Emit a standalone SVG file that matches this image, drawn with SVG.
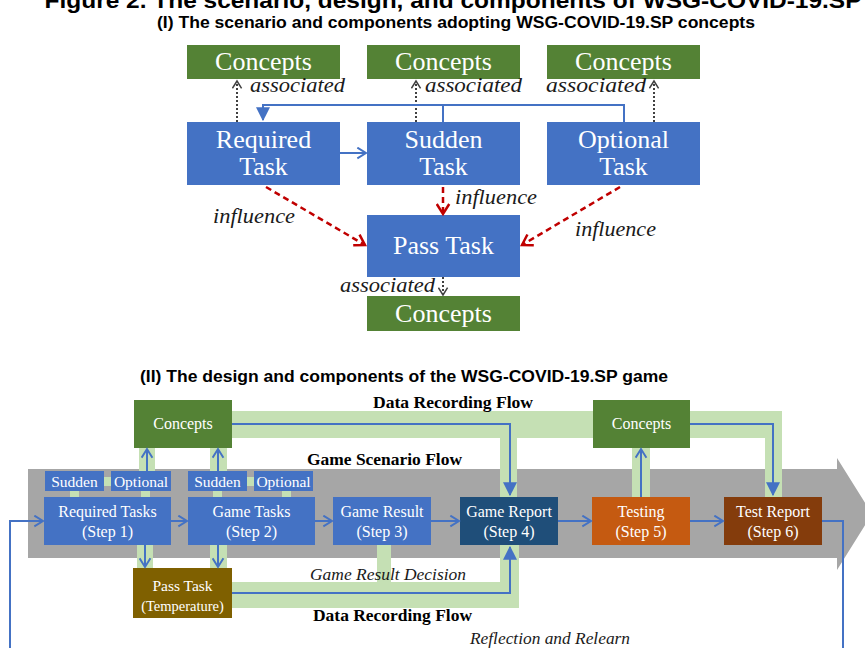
<svg xmlns="http://www.w3.org/2000/svg" width="865" height="648" viewBox="0 0 865 648">
<style>
.title{font-family:"Liberation Sans",Arial,sans-serif;font-weight:bold;fill:#000}
.lbl{font-family:"Liberation Serif","Times New Roman",serif;fill:#fff;text-anchor:middle}
.it{font-family:"Liberation Serif","Times New Roman",serif;font-style:italic;fill:#1a1a1a}
.bd{font-family:"Liberation Serif","Times New Roman",serif;font-weight:bold;fill:#000}
.green{fill:#548235}
.blue{fill:#4472C4}
.band{fill:#C5E0B4}
.assoc{stroke:#404040;stroke-width:2;stroke-dasharray:2 2;fill:none}
.infl{stroke:#C00000;stroke-width:2.5;stroke-dasharray:6 4;fill:none}
.bl{stroke:#4472C4;stroke-width:2;fill:none}
</style>
<defs>
<marker id="chevDark" viewBox="0 0 12 12" refX="10" refY="6" markerWidth="11" markerHeight="11" markerUnits="userSpaceOnUse" orient="auto"><path d="M2,1 L10,6 L2,11" fill="none" stroke="#404040" stroke-width="1.6"/></marker>
<marker id="chevRed" viewBox="0 0 12 12" refX="10" refY="6" markerWidth="15" markerHeight="15" markerUnits="userSpaceOnUse" orient="auto"><path d="M2,1 L10,6 L2,11" fill="none" stroke="#C00000" stroke-width="2"/></marker>
<marker id="chevBlue" viewBox="0 0 12 12" refX="10" refY="6" markerWidth="13" markerHeight="13" markerUnits="userSpaceOnUse" orient="auto"><path d="M2,1 L10,6 L2,11" fill="none" stroke="#4472C4" stroke-width="1.8"/></marker>
<marker id="triBlue" viewBox="0 0 12 12" refX="11" refY="6" markerWidth="14" markerHeight="14" markerUnits="userSpaceOnUse" orient="auto"><path d="M0,0 L12,6 L0,12 Z" fill="#4472C4"/></marker>
</defs>
<rect width="865" height="648" fill="#fff"/>
<text class="title" x="453" y="8" font-size="22" text-anchor="middle" textLength="817" lengthAdjust="spacingAndGlyphs">Figure 2. The scenario, design, and components of WSG-COVID-19.SP</text>
<text class="title" x="456" y="28" font-size="16" text-anchor="middle" textLength="598" lengthAdjust="spacingAndGlyphs">(I) The scenario and components adopting WSG-COVID-19.SP concepts</text>

<!-- Part I nodes -->
<g id="concepts1"><rect class="green" x="187" y="45" width="153" height="34"/><text class="lbl" x="263.5" y="70" font-size="26">Concepts</text></g>
<g id="concepts2"><rect class="green" x="367" y="45" width="153" height="34"/><text class="lbl" x="443.5" y="70" font-size="26">Concepts</text></g>
<g id="concepts3"><rect class="green" x="547" y="45" width="153" height="34"/><text class="lbl" x="623.5" y="70" font-size="26">Concepts</text></g>
<g id="requiredTask"><rect class="blue" x="187" y="122" width="153" height="63"/><text class="lbl" x="263.5" y="148" font-size="26">Required</text><text class="lbl" x="263.5" y="175" font-size="26">Task</text></g>
<g id="suddenTask"><rect class="blue" x="367" y="122" width="153" height="63"/><text class="lbl" x="443.5" y="148" font-size="26">Sudden</text><text class="lbl" x="443.5" y="175" font-size="26">Task</text></g>
<g id="optionalTask"><rect class="blue" x="547" y="122" width="153" height="63"/><text class="lbl" x="623.5" y="148" font-size="26">Optional</text><text class="lbl" x="623.5" y="175" font-size="26">Task</text></g>
<g id="passTask"><rect class="blue" x="367" y="215" width="153" height="62"/><text class="lbl" x="443.5" y="254" font-size="26">Pass Task</text></g>
<g id="concepts4"><rect class="green" x="367" y="296" width="153" height="35"/><text class="lbl" x="443.5" y="322" font-size="26">Concepts</text></g>

<g id="connectors1">
<line class="assoc" x1="237" y1="122" x2="237" y2="81" marker-end="url(#chevDark)"/>
<line class="assoc" x1="416" y1="122" x2="416" y2="81" marker-end="url(#chevDark)"/>
<line class="assoc" x1="654" y1="122" x2="654" y2="81" marker-end="url(#chevDark)"/>
<line class="assoc" x1="443" y1="277" x2="443" y2="295" marker-end="url(#chevDark)"/>
<text class="it" x="250" y="92" font-size="20" textLength="95" lengthAdjust="spacingAndGlyphs">associated</text>
<text class="it" x="425" y="92" font-size="20" textLength="97" lengthAdjust="spacingAndGlyphs">associated</text>
<text class="it" x="546" y="92" font-size="20" textLength="100" lengthAdjust="spacingAndGlyphs">associated</text>
<text class="it" x="340" y="292" font-size="20" textLength="95" lengthAdjust="spacingAndGlyphs">associated</text>
<polyline class="bl" stroke-width="2.5" points="443,122 443,105"/>
<polyline class="bl" stroke-width="2.5" points="624,122 624,105 263,105 263,120" marker-end="url(#triBlue)"/>
<line class="bl" stroke-width="2.5" x1="340" y1="153" x2="366" y2="153" marker-end="url(#chevBlue)"/>
<line class="infl" x1="266" y1="187" x2="365" y2="245" marker-end="url(#chevRed)"/>
<line class="infl" x1="443" y1="187" x2="443" y2="214" marker-end="url(#chevRed)"/>
<line class="infl" x1="620" y1="187" x2="522" y2="245" marker-end="url(#chevRed)"/>
<text class="it" x="213" y="223" font-size="20" textLength="82" lengthAdjust="spacingAndGlyphs">influence</text>
<text class="it" x="455" y="204" font-size="20" textLength="82" lengthAdjust="spacingAndGlyphs">influence</text>
<text class="it" x="575" y="236" font-size="20" textLength="81" lengthAdjust="spacingAndGlyphs">influence</text>
</g>

<!-- Part II -->
<text class="title" x="404" y="382" font-size="16" text-anchor="middle" textLength="528" lengthAdjust="spacingAndGlyphs">(II) The design and components of the WSG-COVID-19.SP game</text>

<!-- grey scenario arrow -->
<polygon points="28,469 837,469 837,458 872,514 837,570 837,558 28,558" fill="#A6A6A6"/>
<text class="bd" x="307" y="465" font-size="16" textLength="155" lengthAdjust="spacingAndGlyphs">Game Scenario Flow</text>

<!-- light green flow bands -->
<g id="bands">
<rect class="band" x="232" y="411" width="550" height="27"/>
<rect class="band" x="500" y="411" width="17" height="86"/>
<rect class="band" x="765" y="411" width="17" height="86"/>
<rect class="band" x="632" y="448" width="18" height="49"/>
<rect class="band" x="139" y="448" width="16" height="23"/>
<rect class="band" x="210" y="448" width="17" height="23"/>
<rect class="band" x="70" y="491" width="9" height="6"/>
<rect class="band" x="141" y="491" width="9" height="6"/>
<rect class="band" x="213" y="491" width="9" height="6"/>
<rect class="band" x="282" y="491" width="9" height="6"/>
<rect class="band" x="104" y="477" width="7" height="9"/>
<rect class="band" x="247" y="477" width="7" height="9"/>
<rect class="band" x="137" y="545" width="16" height="23"/>
<rect class="band" x="210" y="545" width="17" height="23"/>
<rect class="band" x="377" y="545" width="14" height="37"/>
<rect class="band" x="232" y="582" width="287" height="26"/>
<rect class="band" x="500" y="545" width="19" height="63"/>
</g>
<text class="bd" x="373" y="408" font-size="16" textLength="160" lengthAdjust="spacingAndGlyphs">Data Recording Flow</text>
<text class="bd" x="313" y="621" font-size="16" textLength="159" lengthAdjust="spacingAndGlyphs">Data Recording Flow</text>
<text class="it" x="310" y="580" font-size="16" textLength="156" lengthAdjust="spacingAndGlyphs">Game Result Decision</text>
<text class="it" x="470" y="644" font-size="16" textLength="160" lengthAdjust="spacingAndGlyphs">Reflection and Relearn</text>

<g id="conceptsL"><rect class="green" x="134" y="400" width="98" height="48"/><text class="lbl" x="183" y="429" font-size="16">Concepts</text></g>
<g id="conceptsR"><rect class="green" x="593" y="400" width="97" height="48"/><text class="lbl" x="641.5" y="429" font-size="16">Concepts</text></g>
<g id="sudden1"><rect class="blue" x="45" y="471" width="59" height="20"/><text class="lbl" x="74.5" y="487" font-size="15.5">Sudden</text></g>
<g id="optional1"><rect class="blue" x="111" y="471" width="60" height="20"/><text class="lbl" x="141" y="487" font-size="15.5">Optional</text></g>
<g id="sudden2"><rect class="blue" x="188" y="471" width="59" height="20"/><text class="lbl" x="217.5" y="487" font-size="15.5">Sudden</text></g>
<g id="optional2"><rect class="blue" x="254" y="471" width="59" height="20"/><text class="lbl" x="283.5" y="487" font-size="15.5">Optional</text></g>
<g id="step1"><rect class="blue" x="44" y="497" width="127" height="48"/><text class="lbl" x="107.5" y="517" font-size="16">Required Tasks</text><text class="lbl" x="107.5" y="537" font-size="16">(Step 1)</text></g>
<g id="step2"><rect class="blue" x="188" y="497" width="127" height="48"/><text class="lbl" x="251.5" y="517" font-size="16">Game Tasks</text><text class="lbl" x="251.5" y="537" font-size="16">(Step 2)</text></g>
<g id="step3"><rect class="blue" x="333" y="497" width="98" height="48"/><text class="lbl" x="382" y="517" font-size="16">Game Result</text><text class="lbl" x="382" y="537" font-size="16">(Step 3)</text></g>
<g id="step4"><rect fill="#1F4E79" x="460" y="497" width="98" height="48"/><text class="lbl" x="509" y="517" font-size="16">Game Report</text><text class="lbl" x="509" y="537" font-size="16">(Step 4)</text></g>
<g id="step5"><rect fill="#C55A11" x="592" y="497" width="98" height="48"/><text class="lbl" x="641" y="517" font-size="16">Testing</text><text class="lbl" x="641" y="537" font-size="16">(Step 5)</text></g>
<g id="step6"><rect fill="#843C0C" x="724" y="497" width="98" height="48"/><text class="lbl" x="773" y="517" font-size="16">Test Report</text><text class="lbl" x="773" y="537" font-size="16">(Step 6)</text></g>
<g id="passTask2"><rect fill="#7F6000" x="133" y="568" width="99" height="50"/><text class="lbl" x="182.5" y="591" font-size="15.5" fill="#fdf3d0">Pass Task</text><text class="lbl" x="182.5" y="611" font-size="14.5">(Temperature)</text></g>

<g id="connectors2">
<polyline class="bl" points="232,424 510,424 510,495" marker-end="url(#triBlue)"/>
<polyline class="bl" points="690,424 773,424 773,495" marker-end="url(#triBlue)"/>
<line class="bl" x1="641" y1="497" x2="641" y2="449" marker-end="url(#chevBlue)"/>
<line class="bl" x1="147" y1="471" x2="147" y2="449" marker-end="url(#chevBlue)"/>
<line class="bl" x1="218" y1="471" x2="218" y2="449" marker-end="url(#chevBlue)"/>
<line class="bl" x1="145" y1="545" x2="145" y2="567" marker-end="url(#chevBlue)"/>
<line class="bl" x1="218" y1="545" x2="218" y2="567" marker-end="url(#chevBlue)"/>
<polyline class="bl" points="232,593 510,593 510,547" marker-end="url(#triBlue)"/>
<line class="bl" x1="171" y1="521" x2="187" y2="521" marker-end="url(#chevBlue)"/>
<line class="bl" x1="315" y1="521" x2="332" y2="521" marker-end="url(#chevBlue)"/>
<line class="bl" x1="431" y1="521" x2="459" y2="521" marker-end="url(#chevBlue)"/>
<line class="bl" x1="558" y1="521" x2="591" y2="521" marker-end="url(#chevBlue)"/>
<line class="bl" x1="690" y1="521" x2="723" y2="521" marker-end="url(#chevBlue)"/>
<polyline class="bl" points="822,521 843,521 843,650"/>
<polyline class="bl" points="10,650 10,521 43,521" marker-end="url(#chevBlue)"/>
</g>
</svg>
